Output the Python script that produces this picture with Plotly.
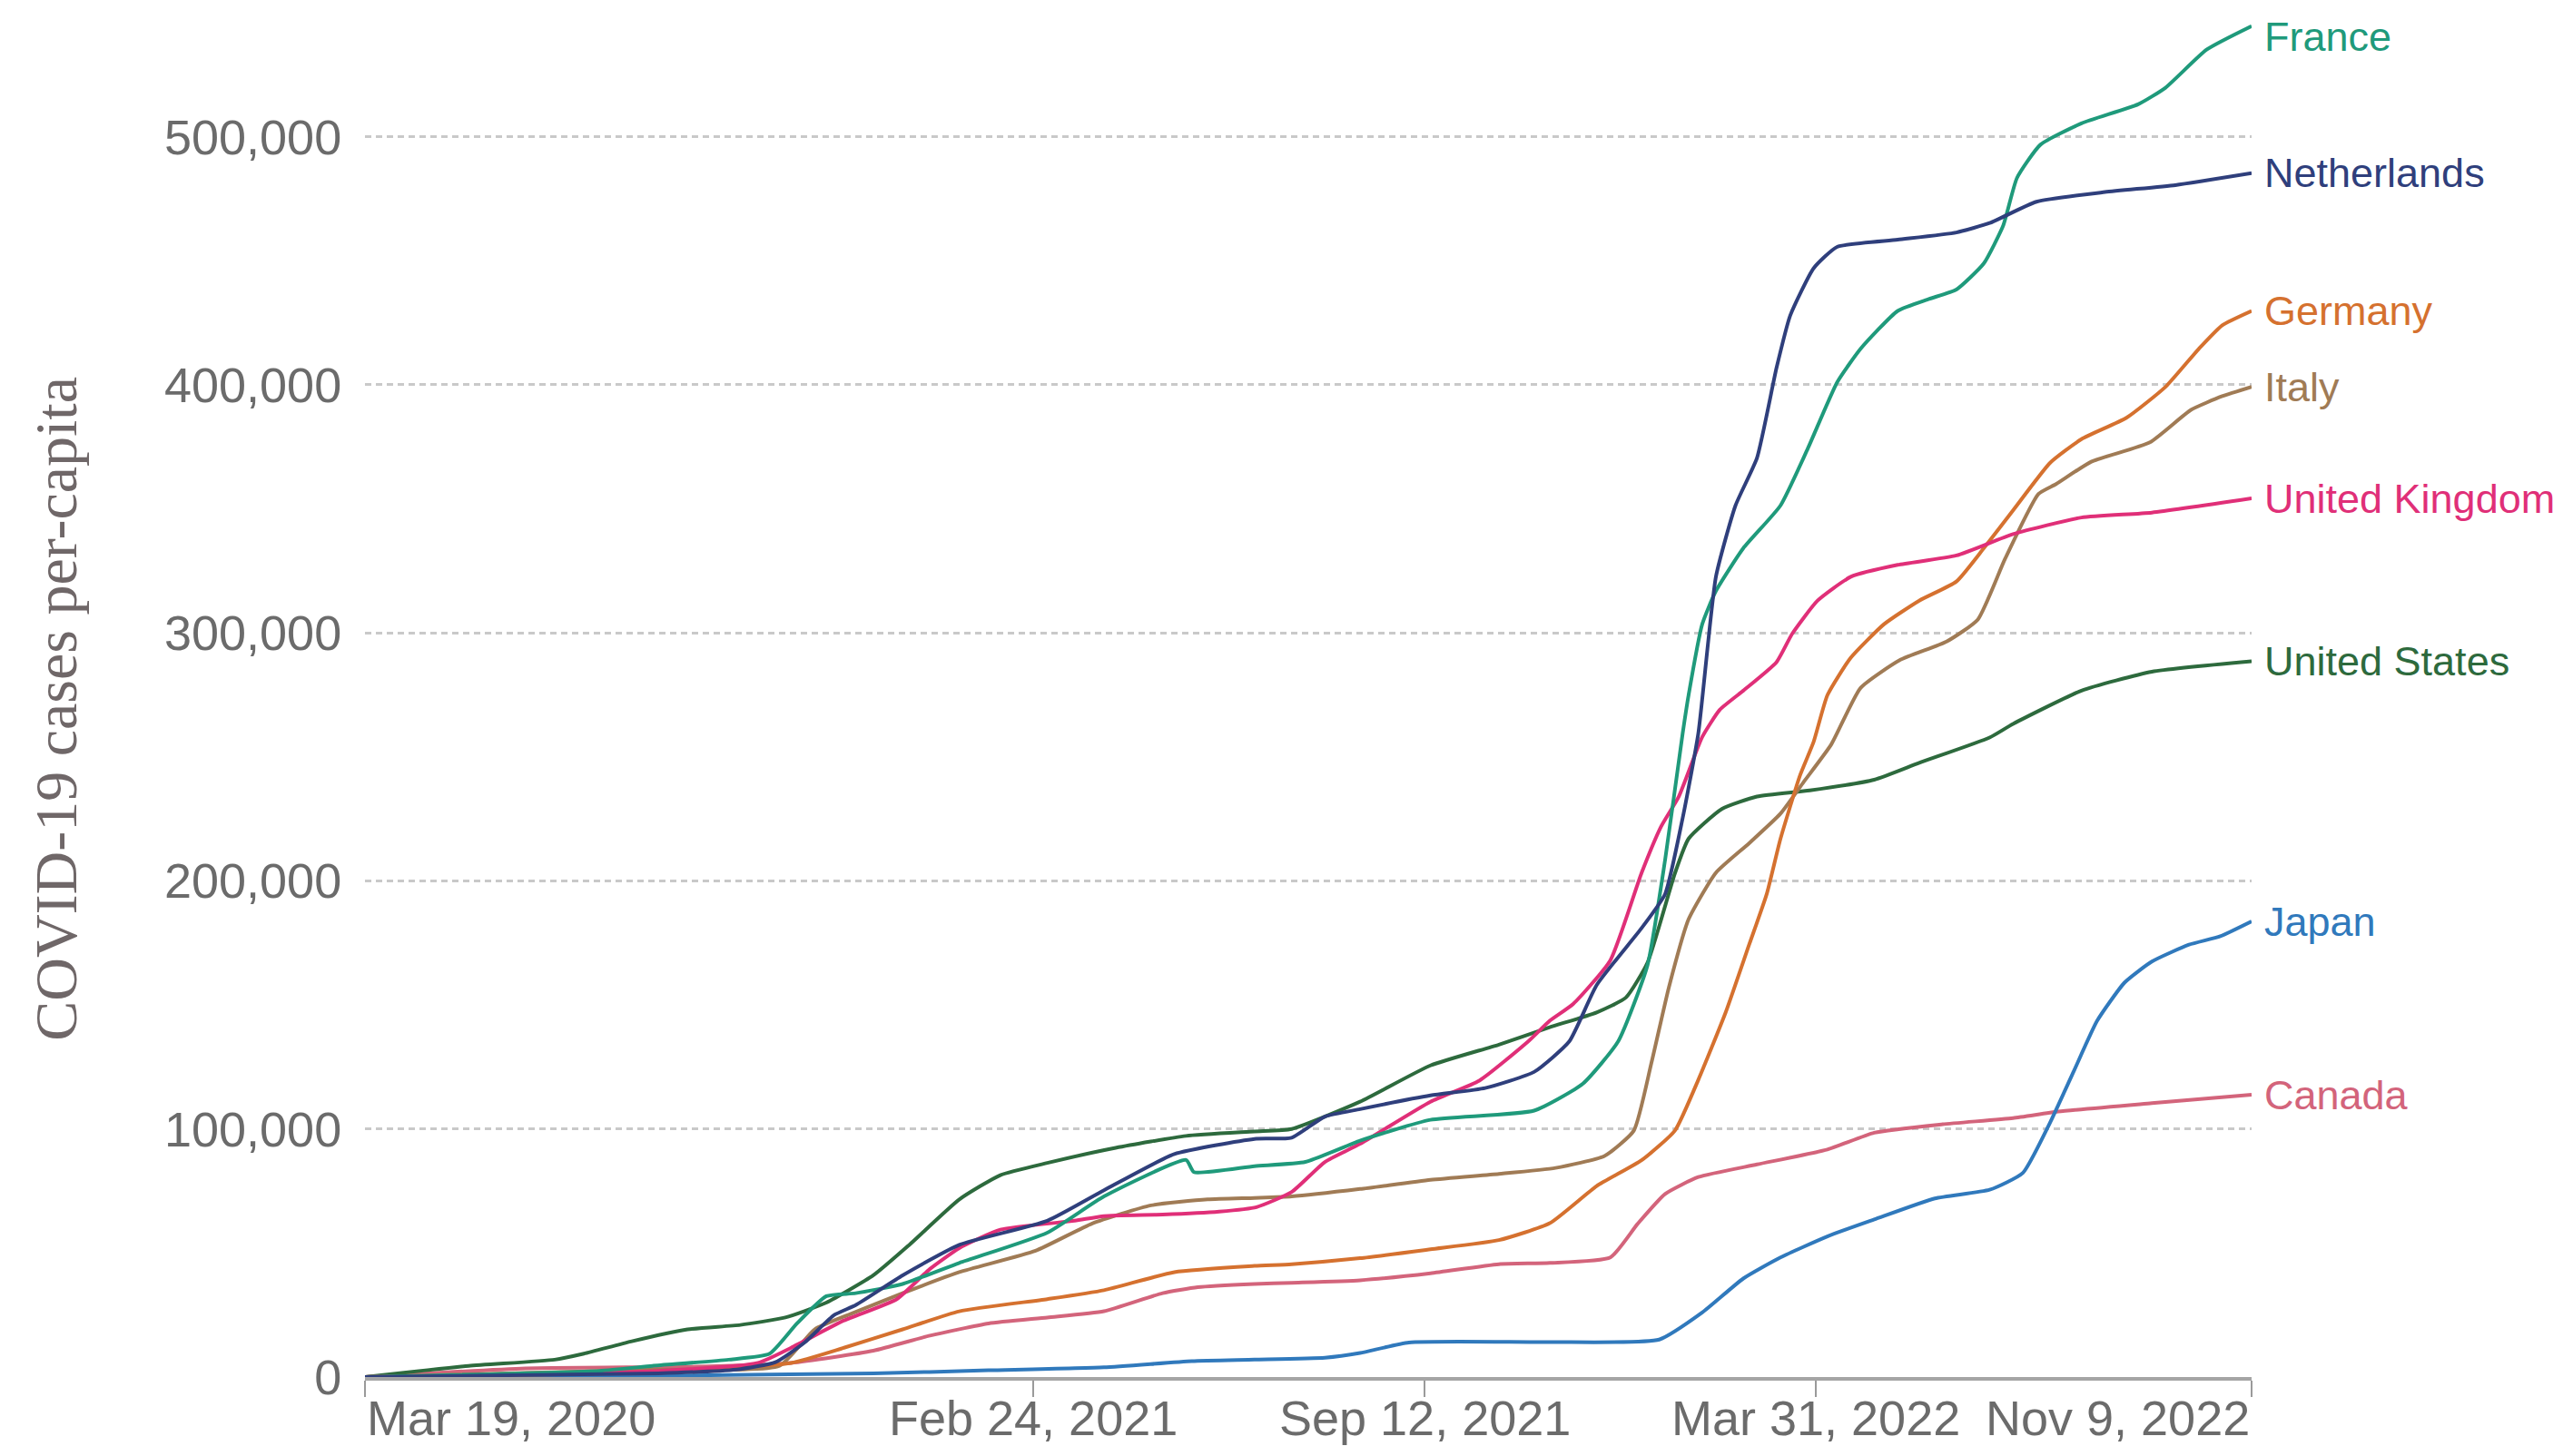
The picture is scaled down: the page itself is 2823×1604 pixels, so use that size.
import pandas as pd
import plotly.graph_objects as go

START = pd.Timestamp("2020-03-19")

countries = ["France", "Netherlands", "Germany", "Italy", "United Kingdom",
             "United States", "Japan", "Canada"]
colors = {"France": "#1f9a7b", "Netherlands": "#2f3f7c", "Germany": "#d5712f",
          "Italy": "#a07b55", "United Kingdom": "#e02f78", "United States": "#2d6a3d",
          "Japan": "#3079bc", "Canada": "#d3647b"}

# days since Mar 19, 2020 and cumulative cases per million
us_days = [0,53,97,112,136,165,192,215,236,260,278,304,325,349,384,420,455,474,509,545,580,606,630,645,656,670,677,694,712,739,772,795,831,843,878,914,965]
us_vals = [0,4500,7000,9400,14300,19200,21000,24000,30000,41000,53000,71600,81400,86300,92400,97200,99000,100000,111000,125600,134000,141000,147000,153000,167000,203000,217000,229000,234000,236500,240800,247600,257800,263300,276700,284300,288500]

nl_days = [0,150,190,210,225,240,251,275,304,349,378,414,455,474,491,509,545,573,598,616,630,653,665,674,682,691,701,712,722,729,741,753,784,814,831,855,890,926,965]
nl_vals = [0,1500,3000,6000,14000,25000,29000,41000,53300,63000,75300,89900,96000,96500,105000,108000,113500,116500,123000,135300,158000,181000,194700,225400,259500,322600,351300,370500,406800,427900,447000,455600,458500,461400,465200,473800,477700,480500,485300]

fr_days = [0,120,147,186,207,221,236,251,275,304,349,378,420,424,455,481,509,545,598,623,641,656,665,674,677,684,691,705,724,738,753,765,784,800,814,828,838,845,857,878,907,921,942,965]
fr_vals = [0,2500,4500,7000,9400,21600,32600,33800,37500,46000,58200,72800,87500,82600,85000,86700,95300,103700,107400,118300,135300,166000,208400,259500,274800,303500,316900,334100,351300,374300,401000,414500,429800,434600,438400,448900,464300,483400,496800,505400,513100,519800,535100,544600]

uk_days = [0,150,201,218,245,272,289,304,325,363,378,408,437,456,474,491,509,545,570,595,606,618,637,653,663,672,684,693,705,722,730,743,760,784,814,843,878,914,965]
uk_vals = [0,2500,5700,11800,22800,31400,43600,52000,59400,63000,64900,65500,66700,68500,74600,86700,94000,111000,119500,135300,143600,150400,168000,203300,222000,234000,258000,269000,276700,288200,299600,313000,322600,327400,331200,339800,346500,348500,354200]

it_days = [0,150,212,230,248,275,304,343,372,402,431,455,474,509,545,580,609,634,649,658,667,677,691,708,724,736,750,765,785,809,825,839,856,865,883,913,934,950,965]
it_vals = [0,3000,4500,19200,25300,33800,42300,50900,61900,69200,71600,72200,72800,75800,79500,81900,84300,89100,99300,126600,157300,184500,203300,215200,227100,240000,255000,277800,289000,296500,305400,330000,356000,360000,369000,376800,389900,395400,399200]

de_days = [0,150,218,245,275,304,349,378,414,455,474,509,545,580,606,630,653,670,682,696,708,717,724,734,741,748,760,777,795,814,828,843,862,878,901,921,938,950,965]
de_vals = [0,2000,5700,11800,19200,26500,31400,35000,42300,44800,45500,47900,51500,55200,62000,77000,87400,99300,119800,147000,174300,194700,216900,242500,256100,274800,290000,303500,313000,320700,334100,349400,368600,378100,386700,399200,414500,424000,429800]

ca_days = [0,82,171,218,260,289,319,349,378,408,426,455,474,509,545,580,606,637,651,665,682,712,748,772,807,843,866,914,965]
ca_vals = [0,3500,4200,5700,10600,16700,21600,24000,26500,33800,36200,37500,38000,39000,41800,45500,46000,48200,61800,73800,80600,85700,91700,98500,101900,104400,107000,110400,113800]

jp_days = [0,112,260,319,378,423,455,491,509,534,606,662,684,705,724,748,772,803,831,848,862,874,886,900,914,933,949,965]
jp_vals = [0,250,1500,2700,3900,6400,7000,7800,9700,13900,14100,15100,26000,39700,48200,56700,63500,72000,75500,82300,102700,123200,143600,159000,167500,174300,177700,183700]

series = {
    "Canada": (ca_days, ca_vals),
    "Japan": (jp_days, jp_vals),
    "United States": (us_days, us_vals),
    "Italy": (it_days, it_vals),
    "Germany": (de_days, de_vals),
    "United Kingdom": (uk_days, uk_vals),
    "France": (fr_days, fr_vals),
    "Netherlands": (nl_days, nl_vals),
}
label_shift = {"France": -12}

tick_dates = ["2020-03-19", "2021-02-24", "2021-09-12", "2022-03-31", "2022-11-09"]
tick_labels = ["Mar 19, 2020", "Feb 24, 2021", "Sep 12, 2021", "Mar 31, 2022", "Nov 9, 2022"]
tick_anchor = ["left", "center", "center", "center", "right"]
y_ticks = [0, 100000, 200000, 300000, 400000, 500000]

SANS = "Liberation Sans, Arial, Helvetica, sans-serif"
fig = go.Figure()
annotations = []
for name, (days, vals) in series.items():
    x = START + pd.to_timedelta(days, unit="D")
    fig.add_trace(go.Scatter(x=x, y=vals, mode="lines", name=name,
                             line=dict(color=colors[name], width=4, shape="spline", smoothing=0.5),
                             cliponaxis=False, showlegend=False))
    annotations.append(dict(x=x[-1], y=vals[-1], xref="x", yref="y", text=name,
                            showarrow=False, xanchor="left", yanchor="middle",
                            xshift=12, yshift=label_shift.get(name, 0),
                            font=dict(family=SANS, size=45, color=colors[name])))

for d, t, a in zip(tick_dates, tick_labels, tick_anchor):
    annotations.append(dict(x=d, y=0, xref="x", yref="paper", text=t, showarrow=False,
                            xanchor=a, yanchor="middle", yshift=-45,
                            font=dict(family=SANS, size=54, color="#6b6b6b")))

annotations.append(dict(x=-0.164, y=0.49, xref="paper", yref="paper",
                        text="COVID-19 cases per-capita", textangle=-90, showarrow=False,
                        xanchor="center", yanchor="middle",
                        font=dict(family="Liberation Serif, Times New Roman, serif", size=66, color="#6f6768")))

fig.update_layout(
    width=2823, height=1604,
    margin=dict(l=394, r=351, t=6, b=95),
    paper_bgcolor="white", plot_bgcolor="white",
    annotations=annotations,
    xaxis=dict(type="date", range=[tick_dates[0], tick_dates[-1]],
               tickvals=tick_dates, showticklabels=False,
               ticks="outside", ticklen=18, tickwidth=2, tickcolor="#9a9a9a",
               showline=True, linecolor="#a5a5a5", linewidth=4,
               showgrid=False, zeroline=False),
    yaxis=dict(range=[0, 550000], tickvals=y_ticks, tickformat=",",
               ticks="outside", ticklen=14, tickcolor="rgba(0,0,0,0)",
               tickfont=dict(family=SANS, size=54, color="#6b6b6b"),
               showgrid=True, gridcolor="#c9c9c9", gridwidth=3, griddash="7px,5px",
               showline=False, zeroline=False),
)

fig.write_html("out.html")
